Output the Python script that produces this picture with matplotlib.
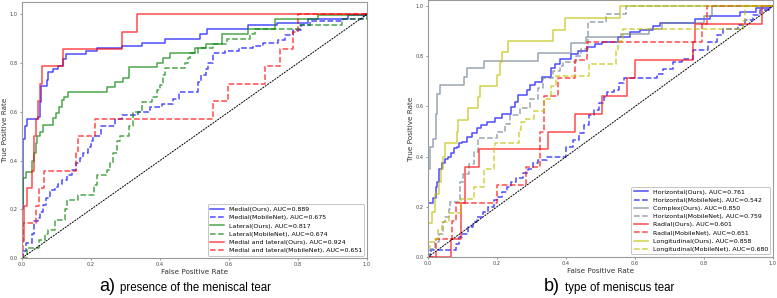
import matplotlib
matplotlib.use("Agg")
import matplotlib.pyplot as plt

# ---- panel a) presence of the meniscal tear ----
fpr_medial_ours = [0, 0, 0.004, 0.008, 0.015, 0.047, 0.052, 0.055, 0.072, 0.076, 0.091, 0.105, 0.12, 0.127,
                   0.186, 0.216, 0.289, 0.347, 0.414, 0.516, 0.535, 0.656, 0.738, 0.83, 0.946, 1.0]
tpr_medial_ours = [0, 0.2, 0.49, 0.54, 0.57, 0.58, 0.64, 0.706, 0.73, 0.764, 0.775, 0.788, 0.816, 0.839,
                   0.85, 0.86, 0.87, 0.884, 0.9, 0.921, 0.94, 0.955, 0.966, 0.98, 0.996, 1.0]

fpr_medial_mob = [0, 0.003, 0.013, 0.03, 0.036, 0.047, 0.052, 0.062, 0.071, 0.081, 0.096, 0.105, 0.115, 0.13,
                  0.144, 0.158, 0.168, 0.178, 0.19, 0.2, 0.207, 0.23, 0.27, 0.29, 0.337, 0.371, 0.405, 0.437,
                  0.456, 0.511, 0.52, 0.534, 0.54, 0.553, 0.589, 0.628, 0.67, 0.70, 0.743, 0.762, 0.786, 0.81,
                  0.835, 0.931, 0.99, 1.0]
tpr_medial_mob = [0, 0.03, 0.06, 0.1, 0.15, 0.165, 0.19, 0.217, 0.245, 0.28, 0.29, 0.305, 0.32, 0.34,
                  0.36, 0.39, 0.41, 0.43, 0.455, 0.48, 0.5, 0.54, 0.57, 0.585, 0.6, 0.62, 0.634, 0.652,
                  0.682, 0.723, 0.75, 0.777, 0.8, 0.84, 0.85, 0.86, 0.87, 0.884, 0.896, 0.914, 0.934, 0.955,
                  0.973, 0.98, 1.0, 1.0]

fpr_lateral_ours = [0, 0, 0.004, 0.013, 0.028, 0.036, 0.042, 0.044, 0.052, 0.06, 0.091, 0.099, 0.108, 0.115,
                    0.122, 0.134, 0.245, 0.27, 0.294, 0.311, 0.39, 0.41, 0.43, 0.501, 0.533, 0.579, 0.656,
                    0.733, 0.859, 1.0]
tpr_lateral_ours = [0, 0.22, 0.33, 0.355, 0.40, 0.43, 0.47, 0.5, 0.518, 0.545, 0.573, 0.593, 0.618, 0.648,
                    0.661, 0.682, 0.70, 0.723, 0.74, 0.784, 0.802, 0.822, 0.841, 0.86, 0.88, 0.921, 0.94,
                    0.98, 0.996, 1.0]

fpr_lateral_mob = [0, 0.015, 0.049, 0.066, 0.075, 0.095, 0.124, 0.13, 0.162, 0.21, 0.216, 0.245, 0.255,
                   0.265, 0.275, 0.283, 0.31, 0.323, 0.347, 0.376, 0.39, 0.4, 0.41, 0.415, 0.473, 0.48,
                   0.487, 0.511, 0.555, 0.594, 0.66, 0.675, 0.805, 0.927, 1.0]
tpr_lateral_mob = [0, 0.04, 0.074, 0.1, 0.115, 0.156, 0.2, 0.238, 0.26, 0.3, 0.34, 0.36, 0.39,
                   0.43, 0.48, 0.5, 0.54, 0.6, 0.64, 0.66, 0.69, 0.71, 0.75, 0.78, 0.8, 0.82,
                   0.84, 0.86, 0.88, 0.9, 0.92, 0.94, 0.955, 0.98, 1.0]

fpr_both_ours = [0, 0, 0.007, 0.015, 0.03, 0.036, 0.040, 0.046, 0.052, 0.059, 0.12, 0.29, 0.333, 1.0]
tpr_both_ours = [0, 0.071, 0.214, 0.286, 0.357, 0.5, 0.571, 0.643, 0.714, 0.786, 0.857, 0.929, 1.0, 1.0]

fpr_both_mob = [0, 0.003, 0.04, 0.05, 0.064, 0.156, 0.162, 0.212, 0.555, 0.597, 0.704, 0.748, 0.786, 0.80, 1.0]
tpr_both_mob = [0, 0.143, 0.214, 0.286, 0.357, 0.429, 0.5, 0.571, 0.643, 0.714, 0.786, 0.857, 0.929, 1.0, 1.0]

# ---- panel b) type of meniscus tear ----
fpr_horiz_ours = [0, 0, 0.016, 0.022, 0.025, 0.033, 0.04, 0.049, 0.059, 0.068, 0.075, 0.083, 0.09, 0.098,
                  0.112, 0.127, 0.141, 0.155, 0.17, 0.194, 0.214, 0.242, 0.252, 0.262, 0.286, 0.296, 0.31,
                  0.33, 0.358, 0.368, 0.383, 0.416, 0.436, 0.46, 0.484, 0.503, 0.551, 0.585, 0.614, 0.653,
                  0.672, 0.773, 0.817, 0.904, 0.952, 0.991, 1.0]
tpr_horiz_ours = [0, 0.214, 0.234, 0.28, 0.3, 0.35, 0.373, 0.39, 0.4, 0.415, 0.433, 0.44, 0.453, 0.46,
                  0.48, 0.496, 0.513, 0.526, 0.539, 0.553, 0.572, 0.599, 0.618, 0.645, 0.665, 0.685, 0.699,
                  0.718, 0.752, 0.771, 0.791, 0.808, 0.821, 0.838, 0.851, 0.858, 0.878, 0.898, 0.904, 0.92,
                  0.931, 0.947, 0.96, 0.978, 0.991, 1.0, 1.0]

fpr_horiz_mob = [0, 0.005, 0.01, 0.08, 0.09, 0.1, 0.115, 0.13, 0.143, 0.16, 0.175, 0.19, 0.2, 0.214, 0.228,
                 0.24, 0.255, 0.276, 0.29, 0.305, 0.32, 0.345, 0.4, 0.419, 0.439, 0.453, 0.468, 0.482, 0.497,
                 0.511, 0.52, 0.54, 0.555, 0.569, 0.663, 0.682, 0.711, 0.735, 0.769, 0.812, 0.837, 0.856,
                 0.9, 0.92, 0.943, 0.962, 0.99, 1.0]
tpr_horiz_mob = [0, 0.013, 0.027, 0.053, 0.08, 0.093, 0.12, 0.14, 0.16, 0.18, 0.2, 0.227, 0.24, 0.26, 0.28,
                 0.3, 0.313, 0.333, 0.35, 0.373, 0.387, 0.4, 0.44, 0.466, 0.493, 0.526, 0.566, 0.586, 0.612,
                 0.638, 0.658, 0.665, 0.692, 0.712, 0.73, 0.751, 0.778, 0.791, 0.824, 0.858, 0.884, 0.91,
                 0.924, 0.944, 0.964, 0.984, 1.0, 1.0]

fpr_complex_ours = [0, 0, 0.006, 0.015, 0.022, 0.025, 0.035, 0.103, 0.114, 0.162, 0.32, 0.414, 0.458, 0.56,
                    0.64, 0.677, 0.80, 0.822, 1.0]
tpr_complex_ours = [0, 0.35, 0.44, 0.47, 0.57, 0.65, 0.685, 0.716, 0.752, 0.782, 0.814, 0.854, 0.875, 0.89,
                    0.91, 0.934, 0.96, 1.0, 1.0]

fpr_complex_mob = [0, 0.006, 0.02, 0.033, 0.043, 0.05, 0.06, 0.065, 0.093, 0.102, 0.12, 0.133, 0.146, 0.199,
                   0.223, 0.238, 0.267, 0.296, 0.32, 0.334, 0.363, 0.383, 0.39, 0.43, 0.445, 0.463, 0.516,
                   0.574, 1.0]
tpr_complex_mob = [0, 0.03, 0.06, 0.09, 0.14, 0.16, 0.19, 0.22, 0.3, 0.33, 0.37, 0.42, 0.473, 0.499,
                   0.532, 0.566, 0.592, 0.63, 0.675, 0.712, 0.74, 0.76, 0.778, 0.8, 0.83, 0.937, 0.97,
                   1.0, 1.0]

fpr_radial_ours = [0, 0.066, 0.096, 0.107, 0.148, 0.349, 0.426, 0.503, 0.576, 0.6, 0.769, 0.773, 0.967, 1.0]
tpr_radial_ours = [0, 0.071, 0.214, 0.357, 0.429, 0.5, 0.571, 0.643, 0.714, 0.786, 0.857, 0.929, 1.0, 1.0]

fpr_radial_mob = [0, 0.022, 0.07, 0.08, 0.2, 0.284, 0.325, 0.335, 0.377, 0.426, 0.46, 0.793, 0.81, 1.0]
tpr_radial_mob = [0, 0.071, 0.143, 0.214, 0.286, 0.357, 0.5, 0.643, 0.714, 0.786, 0.857, 0.929, 1.0, 1.0]

fpr_long_ours = [0, 0, 0.013, 0.02, 0.033, 0.037, 0.045, 0.049, 0.083, 0.088, 0.117, 0.146, 0.15, 0.199,
                 0.209, 0.214, 0.233, 0.363, 0.397, 0.557, 1.0]
tpr_long_ours = [0, 0.134, 0.18, 0.25, 0.3, 0.35, 0.40, 0.453, 0.499, 0.546, 0.592, 0.639, 0.682, 0.725,
                 0.778, 0.818, 0.862, 0.904, 0.951, 1.0, 1.0]

fpr_long_mob = [0, 0, 0.005, 0.02, 0.03, 0.04, 0.06, 0.095, 0.133, 0.162, 0.19, 0.195, 0.264, 0.27, 0.283,
                0.307, 0.337, 0.356, 0.371, 0.468, 0.545, 0.55, 0.564, 0.914, 0.92, 1.0]
tpr_long_mob = [0, 0.04, 0.06, 0.07, 0.107, 0.14, 0.174, 0.23, 0.28, 0.35, 0.44, 0.453, 0.506, 0.54, 0.55,
                0.58, 0.63, 0.68, 0.72, 0.77, 0.82, 0.86, 0.907, 0.94, 1.0, 1.0]

curves_a = [
    (fpr_medial_ours, tpr_medial_ours, "b", "-", "Medial(Ours), AUC=0.889"),
    (fpr_medial_mob, tpr_medial_mob, "b", "--", "Medial(MobileNet), AUC=0.675"),
    (fpr_lateral_ours, tpr_lateral_ours, "g", "-", "Lateral(Ours), AUC=0.817"),
    (fpr_lateral_mob, tpr_lateral_mob, "g", "--", "Lateral(MobileNet), AUC=0.674"),
    (fpr_both_ours, tpr_both_ours, "r", "-", "Medial and lateral(Ours), AUC=0.924"),
    (fpr_both_mob, tpr_both_mob, "r", "--", "Medial and lateral(MobileNet), AUC=0.651"),
]
curves_b = [
    (fpr_horiz_ours, tpr_horiz_ours, "b", "-", "Horizontal(Ours), AUC=0.761"),
    (fpr_horiz_mob, tpr_horiz_mob, "b", "--", "Horizontal(MobileNet), AUC=0.542"),
    (fpr_complex_ours, tpr_complex_ours, "slategray", "-", "Complex(Ours), AUC=0.850"),
    (fpr_complex_mob, tpr_complex_mob, "slategray", "--", "Horizontal(MobileNet), AUC=0.759"),
    (fpr_radial_ours, tpr_radial_ours, "r", "-", "Radial(Ours), AUC=0.601"),
    (fpr_radial_mob, tpr_radial_mob, "r", "--", "Radial(MobileNet), AUC=0.651"),
    (fpr_long_ours, tpr_long_ours, "y", "-", "Longitudinal(Ours), AUC=0.858"),
    (fpr_long_mob, tpr_long_mob, "y", "--", "Longitudinal(MobileNet), AUC=0.680"),
]


def draw_panel(ax, curves, ytop):
    for fpr, tpr, color, ls, label in curves:
        ax.plot(fpr, tpr, color=color, linestyle=ls, lw=1.1, alpha=0.7,
                drawstyle="steps-post", label=label)
    ax.plot([0, 1], [0, 1], color="k", linestyle=(0, (2, 1)), lw=0.7)
    ax.set_xlim(0, 1)
    ax.set_ylim(0, ytop)
    ax.set_xticks([0, 0.2, 0.4, 0.6, 0.8, 1.0])
    ax.set_yticks([0, 0.2, 0.4, 0.6, 0.8, 1.0])
    ax.tick_params(labelsize=3.6, length=1.5, width=0.4, pad=1.5, colors="#444444")
    for sp in ax.spines.values():
        sp.set_color("#9a9a9a")
        sp.set_linewidth(0.8)
    ax.set_xlabel("False Positive Rate", fontsize=5.2, labelpad=1.5, color="#333333")
    ax.set_ylabel("True Positive Rate", fontsize=5.2, labelpad=1.5, color="#333333")
    leg = ax.legend(loc="lower right", fontsize=4.5, handlelength=2.2, labelspacing=0.45,
                    borderaxespad=0.4, framealpha=1, fancybox=True)
    leg.get_frame().set_edgecolor("#bbbbbb")
    leg.get_frame().set_linewidth(0.6)


fig = plt.figure(figsize=(7.77, 2.98), dpi=100)
ax_a = fig.add_axes([0.0283, 0.134, 0.444, 0.859])
ax_b = fig.add_axes([0.5508, 0.1376, 0.444, 0.862])
draw_panel(ax_a, curves_a, 1.05)
draw_panel(ax_b, curves_b, 1.024)

# captions under each panel
cap = ["Liberation Sans", "DejaVu Sans"]
fig.text(0.148, 0.022, "a)", fontsize=13, family=cap, ha="right", va="baseline")
fig.text(0.154, 0.022, "presence of the meniscal tear", fontsize=8.3, family=cap, ha="left", va="baseline")
fig.text(0.7207, 0.022, "b)", fontsize=13, family=cap, ha="right", va="baseline")
fig.text(0.727, 0.022, "type of meniscus tear", fontsize=8.3, family=cap, ha="left", va="baseline")

fig.savefig("out.png", dpi=100)
